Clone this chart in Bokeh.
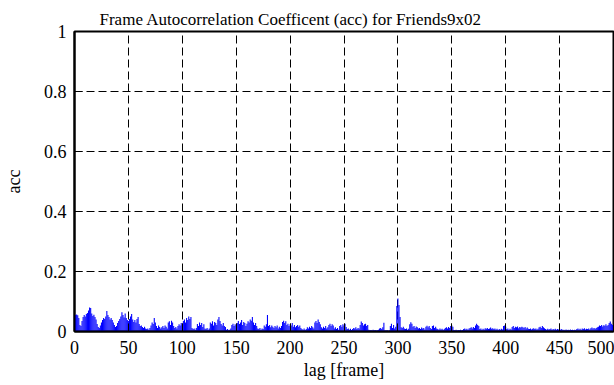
from bokeh.plotting import figure
from bokeh.models import ColumnDataSource, FixedTicker, CustomJSTickFormatter
from bokeh.embed import file_html
from bokeh.resources import INLINE

TITLE = "Frame Autocorrelation Coefficent (acc) for Friends9x02"
X_LABEL = "lag [frame]"
Y_LABEL = "acc"
X_TICKS = [0, 50, 100, 150, 200, 250, 300, 350, 400, 450, 500]
Y_TICKS = [0, 0.2, 0.4, 0.6, 0.8, 1]

lag = list(range(0, 501))
acc = [
    0.052, 0.055, 0.057, 0.054, 0.045, 0.022, 0.018, 0.035, 0.048, 0.055,
    0.050, 0.058, 0.062, 0.070, 0.080, 0.078, 0.060, 0.052, 0.056, 0.048,
    0.040, 0.025, 0.015, 0.012, 0.020, 0.030, 0.038, 0.045, 0.042, 0.050,
    0.068, 0.055, 0.048, 0.040, 0.045, 0.038, 0.030, 0.022, 0.015, 0.018,
    0.028, 0.035, 0.042, 0.050, 0.064, 0.055, 0.047, 0.060, 0.045, 0.038,
    0.035, 0.042, 0.050, 0.058, 0.040, 0.032, 0.038, 0.030, 0.042, 0.048,
    0.025, 0.018, 0.020, 0.015, 0.012, 0.016, 0.010, 0.008, 0.010, 0.006,
    0.012, 0.020, 0.030, 0.025, 0.045, 0.030, 0.018, 0.012, 0.020, 0.015,
    0.010, 0.014, 0.018, 0.012, 0.020, 0.016, 0.010, 0.030, 0.034, 0.022,
    0.036, 0.030, 0.018, 0.012, 0.015, 0.010, 0.018, 0.024, 0.020, 0.028,
    0.022, 0.035, 0.040, 0.030, 0.045, 0.038, 0.050, 0.042, 0.048, 0.012,
    0.008, 0.010, 0.006, 0.012, 0.025, 0.018, 0.030, 0.022, 0.028, 0.015,
    0.024, 0.010, 0.008, 0.012, 0.006, 0.010, 0.030, 0.026, 0.034, 0.020,
    0.032, 0.028, 0.022, 0.040, 0.048, 0.035, 0.025, 0.020, 0.028, 0.018,
    0.015, 0.006, 0.008, 0.004, 0.006, 0.010, 0.022, 0.026, 0.018, 0.024,
    0.020, 0.028, 0.035, 0.025, 0.030, 0.038, 0.022, 0.032, 0.028, 0.018,
    0.026, 0.034, 0.030, 0.040, 0.036, 0.048, 0.030, 0.022, 0.028, 0.018,
    0.010, 0.008, 0.012, 0.006, 0.010, 0.008, 0.020, 0.016, 0.024, 0.055,
    0.018, 0.022, 0.014, 0.020, 0.016, 0.012, 0.018, 0.014, 0.020, 0.010,
    0.016, 0.012, 0.018, 0.032, 0.036, 0.028, 0.034, 0.022, 0.026, 0.018,
    0.024, 0.020, 0.028, 0.016, 0.022, 0.014, 0.018, 0.022, 0.016, 0.020,
    0.012, 0.008, 0.006, 0.010, 0.005, 0.008, 0.014, 0.010, 0.016, 0.012,
    0.018, 0.014, 0.010, 0.030, 0.035, 0.028, 0.040, 0.032, 0.024, 0.014,
    0.010, 0.016, 0.012, 0.018, 0.010, 0.014, 0.022, 0.026, 0.018, 0.024,
    0.020, 0.010, 0.014, 0.008, 0.012, 0.006, 0.018, 0.022, 0.016, 0.024,
    0.020, 0.026, 0.015, 0.008, 0.010, 0.006, 0.009, 0.005, 0.008, 0.012,
    0.010, 0.014, 0.008, 0.012, 0.010, 0.022, 0.033, 0.028, 0.020, 0.024,
    0.026, 0.018, 0.022, 0.006, 0.004, 0.005, 0.003, 0.006, 0.004, 0.005,
    0.003, 0.004, 0.006, 0.010, 0.012, 0.008, 0.014, 0.029, 0.004, 0.003,
    0.005, 0.002, 0.004, 0.018, 0.026, 0.012, 0.022, 0.010, 0.016, 0.085,
    0.110, 0.088, 0.048, 0.014, 0.012, 0.016, 0.010, 0.008, 0.010, 0.006,
    0.009, 0.024, 0.031, 0.026, 0.016, 0.018, 0.012, 0.017, 0.014, 0.010,
    0.012, 0.008, 0.013, 0.010, 0.012, 0.007, 0.016, 0.019, 0.014, 0.018,
    0.012, 0.008, 0.018, 0.020, 0.012, 0.016, 0.010, 0.008, 0.006, 0.010,
    0.007, 0.009, 0.005, 0.008, 0.012, 0.014, 0.010, 0.015, 0.012, 0.018,
    0.020, 0.016, 0.005, 0.004, 0.006, 0.003, 0.005, 0.004, 0.006, 0.003,
    0.005, 0.008, 0.010, 0.007, 0.009, 0.006, 0.010, 0.012, 0.014, 0.010,
    0.015, 0.012, 0.020, 0.026, 0.022, 0.018, 0.008, 0.010, 0.006, 0.009,
    0.007, 0.011, 0.009, 0.012, 0.008, 0.010, 0.013, 0.009, 0.011, 0.008,
    0.010, 0.007, 0.009, 0.005, 0.008, 0.006, 0.009, 0.007, 0.018, 0.020,
    0.016, 0.008, 0.010, 0.006, 0.009, 0.007, 0.015, 0.018, 0.012, 0.016,
    0.014, 0.017, 0.011, 0.015, 0.013, 0.016, 0.014, 0.012, 0.015, 0.010,
    0.013, 0.009, 0.008, 0.010, 0.007, 0.009, 0.011, 0.008, 0.010, 0.007,
    0.009, 0.014, 0.016, 0.012, 0.018, 0.014, 0.011, 0.008, 0.006, 0.009,
    0.007, 0.008, 0.010, 0.006, 0.008, 0.007, 0.009, 0.006, 0.008, 0.007,
    0.009, 0.006, 0.008, 0.005, 0.006, 0.004, 0.007, 0.005, 0.006, 0.004,
    0.007, 0.005, 0.006, 0.004, 0.006, 0.005, 0.008, 0.010, 0.007, 0.009,
    0.006, 0.010, 0.008, 0.011, 0.007, 0.009, 0.008, 0.010, 0.007, 0.011,
    0.013, 0.010, 0.012, 0.009, 0.012, 0.014, 0.016, 0.020, 0.018, 0.022,
    0.017, 0.021, 0.019, 0.024, 0.018, 0.022, 0.028, 0.033, 0.026, 0.022,
    0.025,
]

FONT = "Liberation Serif"

source = ColumnDataSource(data=dict(lag=lag, acc=acc))

p = figure(
    width=614, height=385,
    x_range=(0, 500), y_range=(0, 1),
    output_backend="svg", toolbar_location=None,
    min_border_left=74, min_border_right=1,
    min_border_top=31, min_border_bottom=54,
    background_fill_color="white", border_fill_color="white",
)

p.vbar(x="lag", top="acc", bottom=0, width=1.0, source=source,
       fill_color="#0000ff", line_color=None)

p.title.text = TITLE
p.title.text_font = FONT
p.title.text_font_size = "17px"
p.title.text_font_style = "normal"
p.title.text_color = "black"
p.title.align = "left"
p.title.offset = 25
p.title.vertical_align = "top"
p.title.standoff = 2
p.title.text_line_height = 1.45

p.outline_line_color = "black"
p.outline_line_width = 2
p.outline_line_alpha = 1

p.xaxis.ticker = FixedTicker(ticks=X_TICKS)
p.yaxis.ticker = FixedTicker(ticks=Y_TICKS)
p.yaxis.formatter = CustomJSTickFormatter(code="return String(tick);")

for ax in (p.xaxis, p.yaxis):
    ax.axis_line_color = "black"
    ax.axis_line_width = 2
    ax.major_tick_in = 8
    ax.major_tick_out = 0
    ax.major_tick_line_color = "black"
    ax.major_tick_line_width = 1
    ax.minor_tick_line_color = None
    ax.major_label_text_font = FONT
    ax.major_label_text_font_size = "18px"
    ax.major_label_text_color = "black"
    ax.axis_label_text_font = FONT
    ax.axis_label_text_font_size = "18px"
    ax.axis_label_text_font_style = "normal"
    ax.axis_label_text_color = "black"

p.xaxis.axis_label = X_LABEL
p.yaxis.axis_label = Y_LABEL
p.xaxis.major_label_standoff = 9
p.yaxis.major_label_standoff = 8
p.xaxis.axis_label_standoff = 3
p.yaxis.axis_label_standoff = 17

for g in (p.xgrid, p.ygrid):
    g.grid_line_color = "black"
    g.grid_line_width = 1
    g.grid_line_dash = "8 4"
    g.grid_line_alpha = 1

open("out.html", "w").write(file_html(p, INLINE))
